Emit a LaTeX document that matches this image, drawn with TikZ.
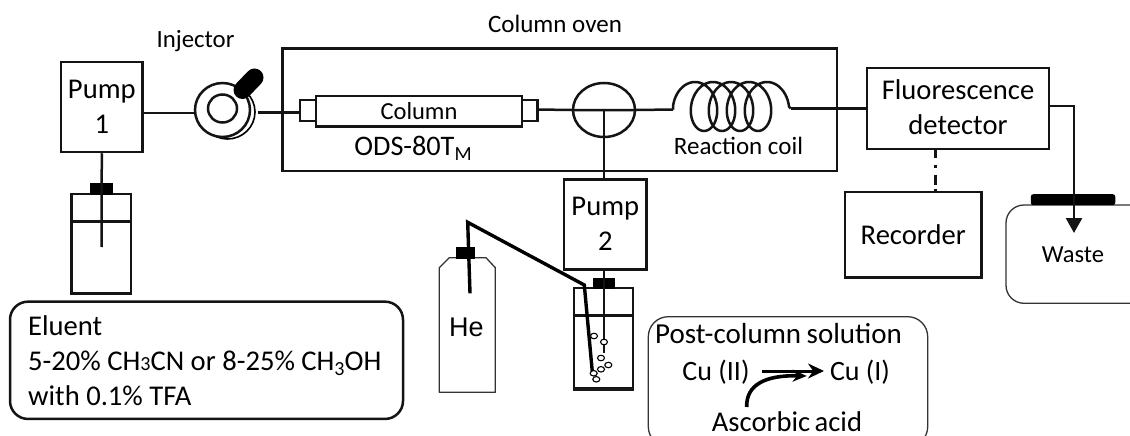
\documentclass[tikz,border=0pt]{standalone}
\usepackage{fontspec}
\setmainfont{Carlito}
\newfontfamily\hefont{Liberation Sans}
\usetikzlibrary{arrows.meta,shapes.geometric}
\newcommand{\fs}[1]{\fontsize{#1}{35}\selectfont}
\tikzset{
  x=1pt,y=-1pt,
  ln/.style={line width=2.5pt,draw=black!92},
  thinln/.style={line width=1.3pt,draw=black!80},
  boxnode/.style={ln,rectangle,inner sep=0pt,align=center,font=\fs{28.6}},
  lab/.style={inner sep=0pt,anchor=base,font=\fs{28.6}},
  stopper/.style={rectangle,fill=black,draw=black,line width=.5pt,inner sep=0pt},
  bubble/.style={ellipse,draw=black,fill=white,line width=1.1pt,inner sep=0pt,minimum width=7pt,minimum height=5.5pt},
  bottle/.style={ln,rectangle,inner sep=0pt,fill=white},
}
\begin{document}
\begin{tikzpicture}
\useasboundingbox[fill=white] (0,0) rectangle (1130,436);
% oven
\node[boxnode,minimum width=554.5pt,minimum height=122.5pt] (oven) at (559.5,109.7) {};
\node[lab,font=\fs{25}] (ovenlab) at (555,33) {Column oven};
% injector
\node[lab,font=\fs{24.8}] (injlab) at (195.5,48) {Injector};
\node[ellipse,draw=black,fill=white,line width=1.6pt,minimum width=55pt,minimum height=54pt,inner sep=0pt] (injB) at (227.5,112) {};
\node[ellipse,ln,fill=white,minimum width=55pt,minimum height=54pt,inner sep=0pt] (inj) at (222.5,110) {};
\node[ellipse,ln,minimum width=29pt,minimum height=28pt,inner sep=0pt] (injC) at (222.5,108.5) {};
\coordinate (h1) at (242.5,90);
\coordinate (h2) at (254.5,77.5);
\draw[line width=18pt,line cap=round,black] (h1) -- (h2);
% pump 1
\node[boxnode,minimum width=81.5pt,minimum height=90pt] (pump1) at (101.8,107) {Pump\\1};
\coordinate (injIn) at (195,113);
\draw[ln] (pump1.east |- injIn) -- (injIn);
\coordinate (injOut) at (258,112.5);
% column
\node[boxnode,minimum width=206pt,minimum height=30.5pt,font=\fs{24.5}] (col) at (419,111.2) {Column};
\node[boxnode,minimum width=16pt,minimum height=21pt,fill=white] (capL) at (308,110.5) {};
\node[boxnode,minimum width=15.5pt,minimum height=21pt,fill=white] (capR) at (529.5,110.5) {};
\draw[ln] (injOut) -- (capL.west |- injOut);
\node[lab,font=\fs{28.3}] (ods) at (413,155) {ODS-80T\raisebox{-5pt}{\fs{20}M}};
% mixer
\node[ellipse,ln,minimum width=62pt,minimum height=54pt,inner sep=0pt] (mix) at (604,110) {};
\coordinate (mixIn) at (537,109.5);
\draw[ln] (mixIn) -- (mix.west) -- (mix.east) -- (673,109.5) coordinate (coilIn);
% coil
\draw[ln,line join=round] (coilIn) -- (673,106.5) -- plot[domain=0:1620,samples=220,smooth,variable=\t] ({673+0.05*\t+17.5*(1-cos(\t))},{106.5-24.5*sin(\t)}) -- (790.7,108.5) coordinate (coilOut);
\node[lab,font=\fs{25}] (coillab) at (738.5,154) {Reaction coil};
% detector
\node[boxnode,minimum width=182pt,minimum height=81pt,text depth=3pt] (det) at (958,108.5) {Fluorescence\\detector};
\draw[ln] (coilOut) -- (coilOut -| det.west);
% recorder
\node[boxnode,minimum width=136.5pt,minimum height=85.7pt] (rec) at (913.2,234.8) {Recorder};
\coordinate (d1) at (935.5,149.5);
\draw[ln,dash pattern=on 8pt off 7pt on 3pt off 7pt on 10pt off 4pt] (d1) -- (d1 |- rec.north);
% waste
\draw[thinln,rounded corners=18pt] (1155,205) -- (1006,205) -- (1006,303.3) -- (1155,303.3);
\node[rectangle,fill=black,rounded corners=2.5pt,minimum width=84.5pt,minimum height=11pt,inner sep=0pt] (cork) at (1073,199.7) {};
\coordinate (wasteTip) at (1074,233);
\coordinate (wasteTurn) at (1074,106);
\draw[ln,-{Triangle[length=15pt,width=16pt]}] (det.east |- wasteTurn) -- (wasteTurn) -- (wasteTip);
\node[lab,font=\fs{24.5}] (wastelab) at (1073,262) {Waste};
% eluent bottle
\node[bottle,minimum width=59.5pt,minimum height=99.5pt] (b1) at (101.3,243.7) {};
\node[stopper,minimum width=22pt,minimum height=11pt] (s1) at (101,188.7) {};
\coordinate (lvl1) at (0,221.7);
\draw[ln] (b1.west |- lvl1) -- (b1.east |- lvl1);
\coordinate (d1e) at (101.5,247);
\draw[ln] (pump1.south) -- (d1e);
% eluent box
\node[ln,rectangle,rounded corners=18pt,minimum width=393pt,minimum height=117.3pt,inner sep=0pt] (elu) at (206.5,360.3) {};
\node[inner sep=0pt,anchor=base west,font=\fs{28.6}] (e1) at (28,335) {Eluent};
\node[inner sep=0pt,anchor=base west,font=\fs{28.6}] (e2) at (28,370) {5-20\% CH{\fs{20}3}CN or 8-25\% CH\raisebox{-5pt}{\fs{20}3}OH};
\node[inner sep=0pt,anchor=base west,font=\fs{28.6}] (e3) at (28,405) {with 0.1\% TFA};
% pump 2
\node[boxnode,minimum width=82.7pt,minimum height=90pt] (pump2) at (605.3,224.3) {Pump\\2};
\draw[ln] (mix.center) -- (mix.center |- pump2.north);
% bottle 2
\node[bottle,minimum width=58.7pt,minimum height=100pt] (b2) at (603.4,338) {};
\draw[line width=3.2pt,black!90] (b2.south west) -- (b2.south east);
\node[stopper,minimum width=21pt,minimum height=10pt] (s2) at (603.5,283) {};
\coordinate (lvl2) at (0,315.7);
\draw[ln] (b2.west |- lvl2) -- (b2.east |- lvl2);
\coordinate (d2e) at (604,353);
\draw[ln] (pump2.south -| d2e) -- (d2e);
% He cylinder
\draw[thinln,line join=round] (449.3,257.7) -- (486,257.7) -- (495.3,267.7) -- (495.3,392.3) -- (439.3,392.3) -- (439.3,267.7) -- cycle;
\node[stopper,minimum width=18pt,minimum height=11pt] (s3) at (465,252.5) {};
\node[inner sep=0pt,anchor=base,font=\hefont\fs{27}] (he) at (466.5,336) {He};
% He tube
\coordinate (t1) at (470,293.3);
\coordinate (t2) at (467.7,222.3);
\coordinate (t3) at (584.3,285);
\coordinate (t4) at (592.3,371.7);
\draw[line width=3.4pt,black,line join=miter] (t1) -- (t2) -- (t3) -- (t4);
% bubbles
\foreach \n/\x/\y in {a/594/336,b/604/342,c/601/358,d/608.3/365,e/601/369.3,f/593.7/373.3,g/596.3/379.3}
  \node[bubble] (bub\n) at (\x,\y) {};
% post-column box
\begin{scope}
\clip (630,300) rectangle (950,435);
\node[draw=black!80,line width=1.3pt,rectangle,rounded corners=20pt,minimum width=279.4pt,minimum height=130pt,inner sep=0pt] (post) at (788,381.7) {};
\end{scope}
\node[inner sep=0pt,anchor=base west,font=\fs{29}] (p1) at (655,343) {Post-column\hspace{-1pt} solution};
\node[lab,font=\fs{28}] (cu2) at (716,380) {Cu (II)};
\node[lab,font=\fs{28}] (cu1) at (860,380) {Cu (I)};
\node[lab] (asc) at (787,431.5) {Ascorbic\hspace{-2pt} acid};
\coordinate (r1) at (762.3,371);
\coordinate (r2) at (824,371);
\draw[line width=3pt,black,-{Stealth[length=16pt,width=15pt]}] (r1) -- (r2);
\coordinate (c1) at (746.7,407);
\coordinate (c2) at (806.7,376);
\draw[line width=3.6pt,black,-{Stealth[length=14pt,width=12pt]}] (c1) .. controls (746,385) and (765,375) .. (c2);
\end{tikzpicture}
\end{document}
